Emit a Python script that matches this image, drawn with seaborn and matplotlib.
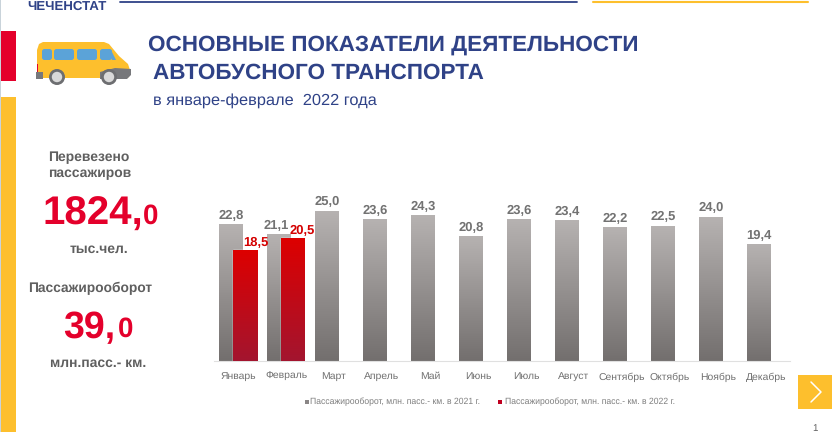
#!/usr/bin/env python3
# -*- coding: utf-8 -*-
import numpy as np
import pandas as pd
import matplotlib.pyplot as plt
from matplotlib.patches import Rectangle, Polygon, Circle, FancyBboxPatch
from matplotlib.colors import LinearSegmentedColormap
import seaborn as sns

months = ['Январь', 'Февраль', 'Март', 'Апрель', 'Май', 'Июнь', 'Июль', 'Август',
          'Сентябрь', 'Октябрь', 'Ноябрь', 'Декабрь']
values_2021 = [22.8, 21.1, 25.0, 23.6, 24.3, 20.8, 23.6, 23.4, 22.2, 22.5, 24.0, 19.4]
values_2022 = [18.5, 20.5]
label_2021 = 'Пассажирооборот, млн. пасс.- км. в 2021 г.'
label_2022 = 'Пассажирооборот, млн. пасс.- км. в 2022 г.'

NAVY = '#2f4287'
YELLOW = '#fdbf2d'
RED = '#e4002b'
GREY = '#5f5f5f'

sns.set_theme(style='white')
plt.rcParams['font.family'] = ['Liberation Sans', 'DejaVu Sans']
plt.rcParams['text.hinting'] = 'no_hinting'
plt.rcParams['text.hinting_factor'] = 8

W, H = 832, 432
fig = plt.figure(figsize=(W / 100, H / 100), dpi=100, facecolor='white')

# слой с оформлением слайда, координаты в пикселях
bg = fig.add_axes([0, 0, 1, 1])
bg.set_xlim(0, W)
bg.set_ylim(H, 0)
bg.axis('off')

bg.add_patch(Rectangle((0, 0), 1, H, color='#c9d3da', lw=0))
bg.add_patch(Rectangle((1, 31), 15, 50, color=RED, lw=0))
bg.add_patch(Rectangle((1, 97), 15, 335, color=YELLOW, lw=0))
bg.plot([120, 577], [2, 2], color=NAVY, lw=1.3)
bg.plot([593, 808], [2, 2], color=YELLOW, lw=1.5)
bg.text(27, 9.5, 'ЧЕЧЕНСТАТ', color=NAVY, fontsize=9.5, fontweight='bold', va='baseline')

# автобус
bg.add_patch(Polygon([(37, 72), (37, 50), (39, 44), (43, 42), (104, 42), (109, 44),
                      (119, 56), (128, 64), (130, 70), (130, 72), (128, 78), (40, 78)],
                     color=YELLOW, lw=0))
for x0, x1 in [(42, 52), (54, 74), (77, 97), (100, 112)]:
    bg.add_patch(FancyBboxPatch((x0 + 2, 51), x1 - x0 - 4, 7,
                                boxstyle='round,pad=2,rounding_size=2.5',
                                color='#5ba3d8', lw=0))
bg.add_patch(Polygon([(108, 49), (112, 60), (116, 60), (111, 50)], color='#5ba3d8', lw=0))
bg.add_patch(Rectangle((36, 72), 7, 7, color='#77787b', lw=0))
bg.add_patch(Polygon([(100, 79), (100, 72), (115, 68), (131, 69), (131, 75), (127, 79)],
                     color='#77787b', lw=0))
bg.add_patch(Rectangle((37, 64), 1.2, 8, color=RED, lw=0))
for cx in [57, 109]:
    bg.add_patch(Circle((cx, 77), 8, color='#6d6e71', lw=0))
    bg.add_patch(Circle((cx, 77), 5.2, color='#d9d9d9', lw=0))

bg.text(148, 51, 'ОСНОВНЫЕ ПОКАЗАТЕЛИ ДЕЯТЕЛЬНОСТИ', color=NAVY, fontsize=16.2,
        fontweight='bold', va='baseline')
bg.text(153, 78.5, 'АВТОБУСНОГО ТРАНСПОРТА', color=NAVY, fontsize=16.2,
        fontweight='bold', va='baseline')
bg.text(153, 105, 'в январе-феврале  2022 года', color=NAVY, fontsize=11.8, va='baseline')

# показатели слева
bg.text(48, 161, 'Перевезено', color=GREY, fontsize=10, fontweight='bold', va='baseline')
bg.text(48, 177, 'пассажиров', color=GREY, fontsize=10, fontweight='bold', va='baseline')
bg.text(42, 225, '1824,', color=RED, fontsize=29, fontweight='bold', va='baseline')
bg.text(143, 224, '0', color=RED, fontsize=20, fontweight='bold', va='baseline')
bg.text(99, 253, 'тыс.чел.', color=GREY, fontsize=10, fontweight='bold', va='baseline', ha='center')
bg.text(28, 292, 'Пассажирооборот', color=GREY, fontsize=9.9, fontweight='bold', va='baseline')
bg.text(63, 338, '39,', color=RED, fontsize=27, fontweight='bold', va='baseline')
bg.text(118, 337, '0', color=RED, fontsize=20, fontweight='bold', va='baseline')
bg.text(98, 367, 'млн.пасс.- км.', color=GREY, fontsize=10, fontweight='bold', va='baseline', ha='center')

# легенда
bg.add_patch(Rectangle((305, 400), 3.5, 3.5, color='#8a8686', lw=0))
bg.text(310, 402, label_2021, color='#7f7f7f', fontsize=6.2, va='center')
bg.add_patch(Rectangle((498, 400), 3.5, 3.5, color='#c00020', lw=0))
bg.text(505, 402, label_2022, color='#7f7f7f', fontsize=6.2, va='center')

# кнопка со стрелкой
bg.add_patch(Rectangle((798, 375), 34, 34, color=YELLOW, lw=0))
bg.plot([811, 821, 811], [382, 392, 402], color='white', lw=1.1)
bg.text(812, 428, '1', color=GREY, fontsize=7, va='center')

# диаграмма
ax = fig.add_axes([214 / W, 1 - 361 / H, 576 / W, 160 / H])
ax.patch.set_alpha(0)
df = pd.DataFrame({'month': months, '2021': values_2021})
df['2022'] = pd.Series(values_2022)

sns.barplot(data=df, x='month', y='2021', color='#a09c9b', width=0.5, saturation=1, ax=ax)
n_grey = len(ax.patches)
sns.barplot(data=df, x='month', y='2022', color='#c00020', width=0.5, saturation=1, ax=ax)

grey_bars = ax.patches[:n_grey]
red_bars = [b for b in ax.patches[n_grey:] if np.isfinite(b.get_height()) and b.get_height() > 0]

shift = 7 / 48
for b in grey_bars:
    b.set_x(b.get_x() - shift)
for b in red_bars:
    b.set_x(b.get_x() + shift)


def paint(bars, top, bottom, z):
    # градиентная заливка поверх столбца
    cmap = LinearSegmentedColormap.from_list('g', [bottom, top])
    grad = np.linspace(0, 1, 128).reshape(-1, 1)
    for b in bars:
        x, h, w = b.get_x(), b.get_height(), b.get_width()
        b.set_zorder(z)
        ax.imshow(grad, cmap=cmap, origin='lower', aspect='auto',
                  extent=(x, x + w, 0, h), zorder=z + 0.1, interpolation='bilinear')


paint(grey_bars, '#b6b2b1', '#736f6e', 2)
paint(red_bars, '#dd0000', '#a3152f', 3)
ax.set_xlim(-0.5, 11.5)
ax.set_ylim(0, 160 / 6)

grey_dx = [0] * len(values_2021)
grey_dx[1] = -3
for b, v, dx in zip(grey_bars, values_2021, grey_dx):
    ax.annotate(f'{v:.1f}'.replace('.', ','), (b.get_x() + b.get_width() / 2, v),
                xytext=(dx, 3), textcoords='offset pixels', ha='center', va='bottom',
                fontsize=9.4, fontweight='bold', color='#727272', zorder=5)
for b, v, dx in zip(red_bars, values_2022, [11, 9]):
    ax.annotate(f'{v:.1f}'.replace('.', ','), (b.get_x() + b.get_width() / 2, v),
                xytext=(dx, 1), textcoords='offset pixels', ha='center', va='bottom',
                fontsize=9.4, fontweight='bold', color='#d40000', zorder=6)

ax.set_xlabel('')
ax.set_ylabel('')
ax.set_yticks([])
ax.tick_params(axis='x', length=0, pad=8, labelsize=7.5, labelcolor='#707070')
sns.despine(ax=ax, left=True)
ax.spines['bottom'].set_color('#e0e0e0')
ax.spines['bottom'].set_linewidth(0.8)

fig.savefig('out.png', dpi=100)
